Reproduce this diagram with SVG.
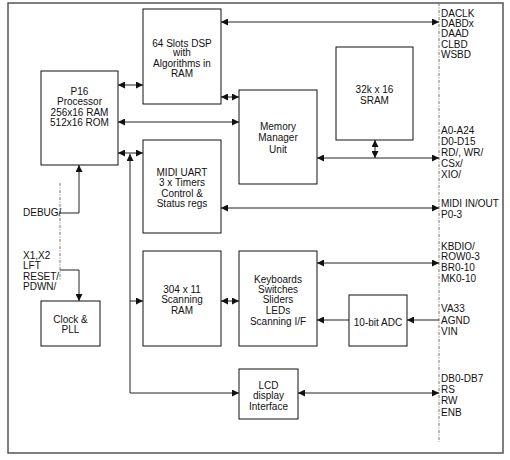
<svg xmlns="http://www.w3.org/2000/svg" width="510" height="460" viewBox="0 0 510 460">
<style>
.box{fill:#fff;stroke:#111;stroke-width:1}
.t{font-family:"Liberation Sans",Arial,sans-serif;font-size:10px;fill:#111}
.c{text-anchor:middle}
.ln{fill:none;stroke:#222;stroke-width:1}
.dash{fill:none;stroke:#777;stroke-width:1;stroke-dasharray:3,1.5,1,1.5}
</style>
<defs>
<marker id="ah" viewBox="0 0 10 10" refX="10" refY="5" markerUnits="userSpaceOnUse" markerWidth="7.5" markerHeight="7" orient="auto-start-reverse">
<path d="M0,0 L10,5 L0,10 z" fill="#111"/>
</marker>
</defs>
<rect x="0" y="0" width="510" height="460" fill="#fff"/>
<rect x="8" y="3" width="495" height="450" fill="none" stroke="#555" stroke-width="1.5"/>
<line class="dash" x1="439" y1="3" x2="439" y2="442"/>
<line class="dash" x1="60" y1="183" x2="60" y2="280"/>

<g id="connectors">
<line class="ln" x1="221" y1="22" x2="439" y2="22" marker-start="url(#ah)" marker-end="url(#ah)"/>
<line class="ln" x1="118" y1="85" x2="143" y2="85" marker-start="url(#ah)" marker-end="url(#ah)"/>
<line class="ln" x1="221" y1="97" x2="239" y2="97" marker-start="url(#ah)" marker-end="url(#ah)"/>
<line class="ln" x1="118" y1="122" x2="239" y2="122" marker-start="url(#ah)" marker-end="url(#ah)"/>
<line class="ln" x1="118" y1="153" x2="143" y2="153" marker-start="url(#ah)" marker-end="url(#ah)"/>
<path class="ln" d="M239,393 L130,393 L130,154" marker-start="url(#ah)" marker-end="url(#ah)"/>
<line class="ln" x1="130" y1="301" x2="143" y2="301" marker-end="url(#ah)"/>
<path class="ln" d="M60,213 L79,213 L79,165" marker-end="url(#ah)"/>
<path class="ln" d="M60,270 L79,270 L79,301" marker-end="url(#ah)"/>
<line class="ln" x1="221" y1="208" x2="439" y2="208" marker-start="url(#ah)" marker-end="url(#ah)"/>
<line class="ln" x1="317" y1="158" x2="439" y2="158" marker-start="url(#ah)" marker-end="url(#ah)"/>
<line class="ln" x1="375" y1="140" x2="375" y2="158" marker-start="url(#ah)" marker-end="url(#ah)"/>
<line class="ln" x1="317" y1="263" x2="439" y2="263" marker-start="url(#ah)" marker-end="url(#ah)"/>
<line class="ln" x1="349" y1="320" x2="317" y2="320" marker-end="url(#ah)"/>
<line class="ln" x1="439" y1="320" x2="407" y2="320" marker-end="url(#ah)"/>
<line class="ln" x1="221" y1="301" x2="239" y2="301" marker-start="url(#ah)" marker-end="url(#ah)"/>
<line class="ln" x1="298" y1="393" x2="439" y2="393" marker-start="url(#ah)" marker-end="url(#ah)"/>
</g>

<g id="p16">
<rect class="box" x="41" y="71" width="77" height="94"/>
<text class="t c" x="79.5" y="94.5">P16</text>
<text class="t c" x="79.5" y="104.5">Processor</text>
<text class="t c" x="79.5" y="115.5">256x16 RAM</text>
<text class="t c" x="79.5" y="125.5">512x16 ROM</text>
</g>
<g id="dsp">
<rect class="box" x="143" y="9" width="78" height="95"/>
<text class="t c" x="182" y="46.5">64 Slots DSP</text>
<text class="t c" x="182" y="56">with</text>
<text class="t c" x="182" y="66.5">Algorithms in</text>
<text class="t c" x="182" y="76.5">RAM</text>
</g>
<g id="midi">
<rect class="box" x="143" y="140" width="78" height="93"/>
<text class="t c" x="182" y="175.5">MIDI UART</text>
<text class="t c" x="182" y="185.5">3 x Timers</text>
<text class="t c" x="182" y="196.5">Control &amp;</text>
<text class="t c" x="182" y="206.5">Status regs</text>
</g>
<g id="mmu">
<rect class="box" x="239" y="90" width="78" height="94"/>
<text class="t c" x="278" y="129.5">Memory</text>
<text class="t c" x="278" y="141">Manager</text>
<text class="t c" x="278" y="153">Unit</text>
</g>
<g id="sram">
<rect class="box" x="336" y="47" width="77" height="93"/>
<text class="t c" x="374.5" y="92.5">32k x 16</text>
<text class="t c" x="374.5" y="103.5">SRAM</text>
</g>
<g id="scanram">
<rect class="box" x="143" y="251" width="78" height="95"/>
<text class="t c" x="182" y="292.5">304 x 11</text>
<text class="t c" x="182" y="302.5">Scanning</text>
<text class="t c" x="182" y="313.5">RAM</text>
</g>
<g id="keyboards">
<rect class="box" x="239" y="251" width="78" height="95"/>
<text class="t c" x="278" y="282.5">Keyboards</text>
<text class="t c" x="278" y="292.5">Switches</text>
<text class="t c" x="278" y="303">Sliders</text>
<text class="t c" x="278" y="313.5">LEDs</text>
<text class="t c" x="278" y="324.5">Scanning I/F</text>
</g>
<g id="adc">
<rect class="box" x="349" y="295" width="58" height="51"/>
<text class="t c" x="378" y="325.5">10-bit ADC</text>
</g>
<g id="lcd">
<rect class="box" x="239" y="369" width="59" height="50"/>
<text class="t c" x="268.5" y="388.5">LCD</text>
<text class="t c" x="268.5" y="398.5">display</text>
<text class="t c" x="268.5" y="409.5">Interface</text>
</g>
<g id="clock">
<rect class="box" x="41" y="301" width="59" height="45"/>
<text class="t c" x="70.5" y="322.5">Clock &amp;</text>
<text class="t c" x="70.5" y="332.5">PLL</text>
</g>

<g id="labels">
<text class="t" x="23" y="216">DEBUG/</text>
<text class="t" x="23" y="258.5">X1,X2</text>
<text class="t" x="23" y="268.5">LFT</text>
<text class="t" x="23" y="280">RESET/</text>
<text class="t" x="23" y="290">PDWN/</text>

<text class="t" x="441" y="16.5">DACLK</text>
<text class="t" x="441" y="26.5">DABDx</text>
<text class="t" x="441" y="37">DAAD</text>
<text class="t" x="441" y="47.5">CLBD</text>
<text class="t" x="441" y="57.5">WSBD</text>

<text class="t" x="441" y="133.5">A0-A24</text>
<text class="t" x="441" y="144.5">D0-D15</text>
<text class="t" x="441" y="155.5">RD/, WR/</text>
<text class="t" x="441" y="166.5">CSx/</text>
<text class="t" x="441" y="177.5">XIO/</text>

<text class="t" x="441" y="206.5">MIDI IN/OUT</text>
<text class="t" x="441" y="217.5">P0-3</text>

<text class="t" x="441" y="249.5">KBDIO/</text>
<text class="t" x="441" y="260">ROW0-3</text>
<text class="t" x="441" y="270.5">BR0-10</text>
<text class="t" x="441" y="282">MK0-10</text>

<text class="t" x="441" y="311.5">VA33</text>
<text class="t" x="441" y="323.5">AGND</text>
<text class="t" x="441" y="334.5">VIN</text>

<text class="t" x="441" y="381.5">DB0-DB7</text>
<text class="t" x="441" y="392.5">RS</text>
<text class="t" x="441" y="403.5">RW</text>
<text class="t" x="441" y="415.5">ENB</text>
</g>
</svg>
